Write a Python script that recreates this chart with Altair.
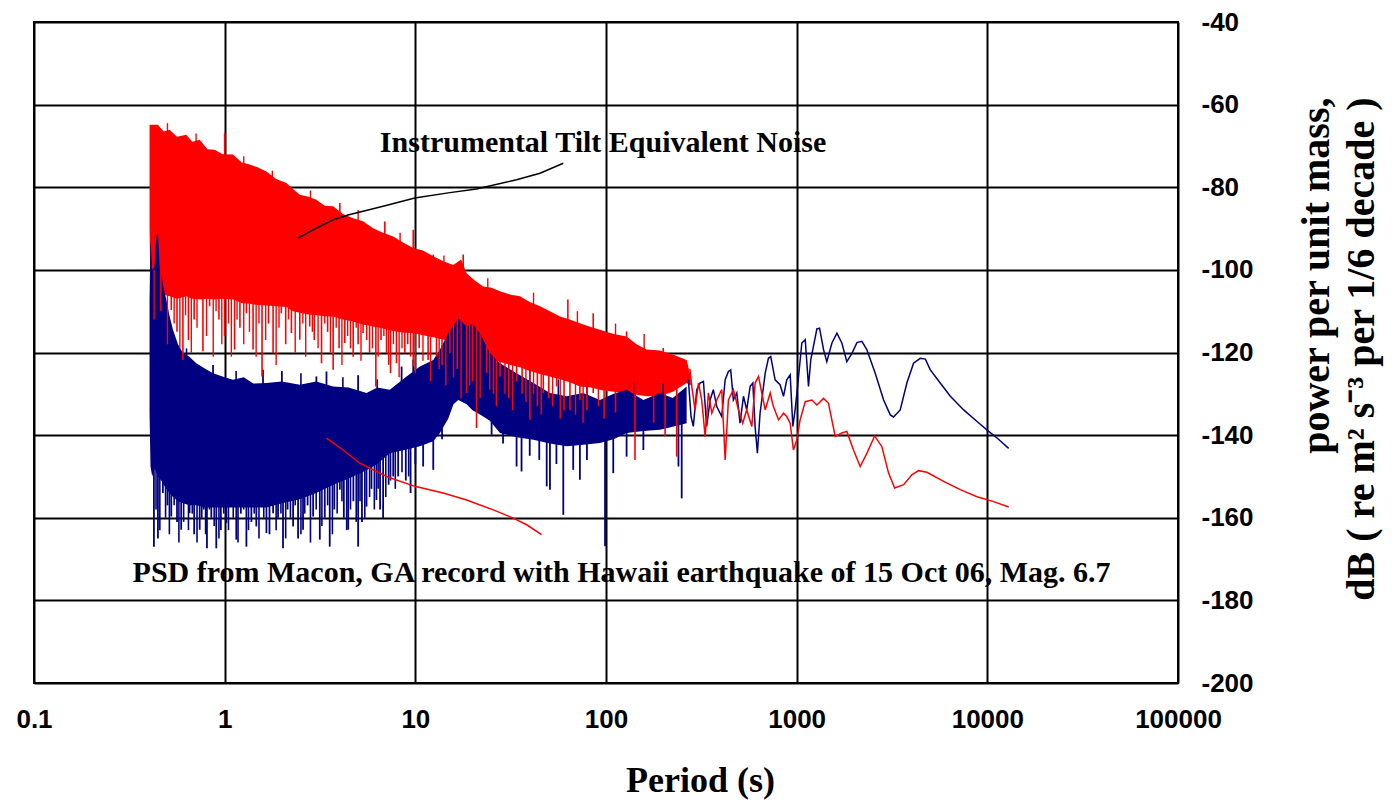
import altair as alt
import pandas as pd

# ---------------- data (log10 period, dB) ----------------
red_band_logp = [-0.394,-0.389,-0.350,-0.320,-0.289,-0.250,-0.201,-0.170,-0.131,-0.090,
                 -0.053,-0.010,0.044,0.090,0.131,0.175,0.219,0.270,0.324,0.360,
                 0.394,0.440,0.481,0.525,0.569,0.620,0.674,0.725,0.779,0.830,
                 0.884,0.940,0.989,1.040,1.094,1.150,1.199,1.240,1.269,1.310,
                 1.356,1.400,1.444,1.500,1.549,1.600,1.654,1.706,1.759,1.810,
                 1.863,1.920,1.968,2.040,2.108,2.160,2.213,2.283,2.350,2.423,2.445]
red_band_top = [-64.9,-64.9,-64.9,-66.5,-66.1,-67.8,-67.3,-69.0,-68.5,-70.8,
                -70.9,-72.0,-72.1,-74.0,-74.5,-75.2,-76.2,-78.0,-79.0,-80.5,
                -81.8,-82.3,-83.0,-84.5,-84.6,-86.5,-87.5,-88.2,-89.9,-91.0,
                -91.9,-93.5,-94.7,-95.3,-96.7,-98.0,-98.8,-97.5,-100.8,-102.5,
                -104.0,-104.3,-105.2,-106.0,-106.4,-107.8,-108.8,-110.0,-111.3,-112.0,
                -112.9,-113.8,-114.5,-115.5,-116.1,-118.0,-119.3,-119.5,-120.5,-121.8,-126.0]
red_band_bot = [-89.5,-107.0,-107.0,-106.0,-106.4,-107.0,-106.4,-107.0,-107.2,-107.0,
                -107.2,-107.0,-107.2,-108.0,-108.2,-108.5,-108.6,-108.8,-109.0,-110.0,
                -110.4,-110.8,-111.0,-111.2,-111.3,-112.0,-112.5,-113.2,-113.7,-114.2,
                -114.8,-115.2,-115.3,-115.8,-116.3,-116.9,-117.5,-118.5,-119.0,-119.6,
                -120.1,-121.5,-122.3,-123.0,-123.6,-124.5,-125.2,-125.8,-126.5,-127.2,
                -128.2,-128.5,-129.0,-129.5,-129.8,-130.2,-130.6,-130.6,-129.5,-127.4,-128.0]

red_spike_logp = [-0.280,-0.250,-0.219,-0.190,-0.160,-0.114,-0.079,-0.030,0.000,0.052,
                  0.080,0.114,0.149,0.196,0.230,0.254,0.297,0.320,0.350,0.394,
                  0.446,0.470,0.508,0.540,0.569,0.600,0.630,0.674,0.700,0.726,
                  0.760,0.793,0.820,0.849,0.870,0.901,0.945,0.960,0.989,1.020,
                  1.067,1.111,1.140,1.181,1.220,1.269,1.300,1.321,1.374,1.410,
                  1.444,1.490,1.531,1.560,1.601,1.640,1.671,1.700,1.741,1.780,
                  1.811,1.863,1.900,1.933,1.990,2.050,2.152,2.250,2.310,2.371,
                  0.000,0.604,0.840,0.989,1.094,1.251,1.800,1.933,2.108,2.300]
red_spike_tip = [-109.7,-115.0,-121.8,-117.0,-112.0,-119.7,-108.8,-112.0,-116.0,-119.3,
                 -114.0,-110.5,-119.3,-125.8,-113.0,-120.2,-110.5,-118.0,-115.3,-116.9,
                 -113.7,-117.0,-122.6,-115.0,-124.2,-119.0,-117.7,-121.0,-118.0,-115.3,
                 -120.0,-128.2,-117.0,-120.1,-125.0,-122.6,-120.1,-118.0,-123.4,-119.0,
                 -121.8,-121.0,-123.0,-120.1,-124.0,-129.8,-127.0,-138.3,-125.0,-130.0,
                 -125.8,-131.0,-127.0,-130.0,-136.3,-133.0,-129.8,-131.0,-128.2,-134.0,
                 -133.9,-131.5,-134.0,-129.8,-136.0,-134.5,-146.0,-137.0,-140.3,-145.2,
                 -66.9,-83.8,-88.3,-90.3,-96.3,-96.3,-107.2,-110.5,-114.9,-118.9]
red_spike_base = [-100,-100,-100,-100,-100,-100,-100,-100,-100,-100,
                  -100,-100,-100,-100,-100,-100,-100,-100,-100,-100,
                  -100,-100,-100,-100,-100,-100,-100,-100,-100,-100,
                  -100,-100,-100,-100,-100,-105,-105,-105,-105,-105,
                  -105,-108,-108,-108,-108,-110,-110,-110,-112,-112,
                  -112,-114,-114,-114,-114,-116,-116,-116,-116,-118,
                  -118,-118,-118,-118,-120,-120,-122,-124,-124,-124,
                  -80,-95,-100,-100,-105,-105,-118,-120,-125,-125]

# finer hairs on the red band (lower and upper edges)
red_hair_logp = [-0.370,-0.335,-0.300,-0.265,-0.235,-0.205,-0.175,-0.145,-0.095,-0.060,
                 -0.045,-0.015,0.020,0.035,0.065,0.100,0.130,0.165,0.180,0.215,
                 0.270,0.285,0.335,0.370,0.410,0.425,0.460,0.490,0.525,0.555,
                 0.585,0.615,0.645,0.660,0.690,0.715,0.745,0.775,0.805,0.835,
                 0.860,0.885,0.915,0.930,0.975,1.000,1.040,1.080,1.125,1.160,
                 1.200,1.240,1.285,1.340,1.390,1.425,1.470,1.510,1.580,1.620,
                 1.660,1.720,1.760,1.840,1.880,1.960,
                 -0.300,-0.150,0.100,0.250,0.450,0.700,0.920,1.150,1.380,1.620,
                 1.850,2.050,2.200]
red_hair_tip = [-112,-110,-118,-113,-119,-111,-120,-114,-116,-121,
                -110,-118,-113,-121,-112,-118,-115,-121,-113,-117,
                -123,-114,-112,-120,-113,-121,-115,-119,-113,-120,
                -114,-123,-116,-119,-114,-122,-117,-119,-121,-116,
                -123,-118,-126,-119,-121,-125,-122,-127,-124,-128,
                -126,-131,-128,-131,-129,-133,-130,-134,-132,-130,
                -135,-133,-136,-135,-137,-133,
                -64.5,-67.0,-72.5,-76.0,-80.8,-85.5,-91.0,-96.5,-102.0,-105.5,
                -110.0,-113.0,-115.5]
red_hair_base = [-100,-100,-100,-100,-100,-100,-100,-100,-100,-100,
                 -100,-100,-100,-100,-100,-100,-100,-100,-100,-100,
                 -100,-100,-100,-100,-100,-100,-100,-100,-100,-100,
                 -100,-100,-100,-100,-100,-100,-100,-100,-100,-100,
                 -100,-100,-105,-105,-105,-105,-105,-105,-110,-110,
                 -110,-110,-110,-113,-113,-113,-113,-116,-116,-116,
                 -116,-116,-119,-119,-119,-119,
                 -72,-75,-80,-85,-90,-95,-100,-105,-110,-114,
                 -118,-122,-125]

red_tail_logp = [2.440,2.450,2.467,2.485,2.502,2.520,2.537,2.555,2.581,2.607,
                 2.625,2.642,2.668,2.695,2.717,2.738,2.765,2.782,2.800,2.817,
                 2.835,2.861,2.878,2.905,2.931,2.948,2.966,2.983,3.001,3.018,
                 3.045,3.080,3.106,3.141,3.167,3.202,3.237,3.263,3.298,3.333,
                 3.368,3.409,3.447,3.482,3.514,3.561,3.604,3.639,3.683,3.771,
                 3.858,3.946,4.033,4.112]
red_tail_db = [-124.0,-128.2,-133.9,-127.4,-131.5,-140.3,-129.8,-134.7,-131.5,-129.0,
               -146.0,-131.5,-129.0,-133.9,-137.1,-133.9,-137.9,-127.4,-125.8,-129.8,
               -133.9,-129.8,-133.1,-136.3,-134.7,-135.5,-137.1,-143.6,-141.1,-136.3,
               -131.9,-131.5,-132.7,-131.1,-132.3,-140.3,-139.5,-139.1,-143.6,-147.6,
               -144.4,-140.2,-142.8,-149.2,-152.8,-152.0,-149.6,-148.6,-149.0,-151.2,
               -153.2,-154.9,-156.1,-157.4]

blue_band_logp = [-0.394,-0.389,-0.380,-0.368,-0.358,-0.350,-0.341,-0.333,-0.320,-0.306,
                  -0.290,-0.271,-0.245,-0.219,-0.185,-0.149,-0.100,-0.061,0.000,0.044,
                  0.100,0.150,0.219,0.300,0.394,0.480,0.569,0.650,0.744,0.800,
                  0.866,0.954,1.024,1.094,1.129,1.173,1.200,1.225,1.269,1.300,
                  1.339,1.391,1.444,1.531,1.619,1.706,1.794,1.881,1.968,2.040,
                  2.108,2.196,2.283,2.350,2.423]
blue_band_top = [-107.2,-92.7,-100.0,-99.2,-92.0,-90.8,-99.5,-100.8,-104.5,-107.2,
                 -111.0,-114.5,-118.0,-120.1,-121.0,-122.6,-124.0,-125.0,-126.0,-126.6,
                 -126.0,-127.5,-127.4,-127.0,-127.8,-127.0,-128.2,-128.5,-129.8,-128.5,
                 -129.0,-125.8,-123.4,-121.8,-119.3,-115.3,-113.5,-111.7,-113.7,-113.0,
                 -115.3,-120.1,-122.6,-125.0,-127.4,-129.8,-130.6,-129.8,-131.5,-130.0,
                 -129.0,-131.5,-129.8,-131.0,-128.2]
blue_band_bot = [-134.7,-147.6,-150.0,-148.0,-149.0,-150.0,-150.5,-151.0,-152.0,-153.0,
                 -154.0,-155.0,-156.0,-156.5,-157.0,-157.0,-157.5,-157.5,-157.5,-157.5,
                 -157.5,-157.5,-157.5,-156.5,-155.5,-154.0,-152.0,-150.5,-148.5,-147.0,
                 -144.4,-143.5,-142.7,-141.5,-139.5,-136.0,-132.5,-131.5,-132.5,-134.0,
                 -135.0,-136.5,-139.5,-140.5,-141.1,-142.0,-142.7,-142.3,-141.9,-141.0,
                 -139.5,-139.0,-138.7,-138.0,-137.1]

blue_spike_logp = [-0.371,-0.350,-0.324,-0.300,-0.280,-0.250,-0.228,-0.200,-0.184,-0.160,
                   -0.131,-0.110,-0.093,-0.070,-0.044,-0.020,0.009,0.030,0.061,0.085,
                   0.114,0.140,0.166,0.190,0.219,0.235,0.254,0.280,0.306,0.330,
                   0.359,0.385,0.411,0.435,0.464,0.499,0.525,0.551,0.575,0.604,
                   0.625,0.648,0.675,0.700,0.720,0.744,0.770,0.796,0.815,0.831,
                   0.860,0.884,0.910,0.950,0.975,1.000,1.041,1.094,1.140,1.400,
                   1.460,1.531,1.557,1.600,1.650,1.689,1.706,1.740,1.776,1.828,
                   1.863,1.900,1.995,2.038,2.108,2.196,2.380,2.397,
                   -0.061,0.201,0.300,0.481,0.534,0.700,0.928,0.989]
blue_spike_tip = [-167.0,-165.0,-154.0,-157.0,-159.7,-161.0,-162.9,-156.0,-158.9,-164.0,
                  -162.9,-158.0,-167.4,-160.0,-167.4,-163.0,-161.3,-157.0,-165.3,-159.0,
                  -167.0,-161.0,-162.1,-156.0,-163.7,-164.0,-158.9,-160.0,-167.4,-158.0,
                  -162.1,-165.0,-162.9,-157.0,-159.7,-165.3,-160.0,-167.0,-158.0,-153.2,
                  -160.0,-162.9,-156.0,-167.0,-161.0,-157.3,-153.0,-155.7,-158.0,-160.1,
                  -152.0,-150.0,-150.0,-151.0,-154.0,-147.0,-147.6,-148.4,-141.0,-139.9,
                  -142.0,-147.6,-148.8,-145.0,-146.0,-152.4,-153.2,-147.0,-159.3,-148.4,
                  -150.8,-146.0,-166.9,-149.2,-145.2,-143.6,-147.6,-155.3,
                  -123.0,-124.2,-124.5,-125.8,-124.6,-125.5,-123.4,-121.8]
blue_spike_base = [-140,-140,-140,-140,-140,-140,-140,-140,-140,-140,
                   -140,-140,-140,-140,-140,-140,-140,-140,-140,-140,
                   -140,-140,-140,-140,-140,-140,-140,-140,-140,-140,
                   -140,-140,-140,-140,-140,-140,-140,-140,-140,-140,
                   -140,-140,-140,-140,-140,-140,-140,-140,-138,-138,
                   -138,-138,-135,-135,-135,-135,-133,-133,-128,-128,
                   -132,-132,-132,-132,-134,-134,-134,-134,-134,-134,
                   -134,-134,-134,-134,-133,-133,-133,-133,
                   -135,-135,-135,-135,-135,-135,-135,-135]

# finer hairs on the blue band (lower and upper edges)
blue_hair_logp = [-0.360,-0.340,-0.310,-0.290,-0.265,-0.240,-0.215,-0.190,-0.170,-0.145,
                  -0.120,-0.100,-0.080,-0.055,-0.030,-0.005,0.020,0.045,0.070,0.100,
                  0.125,0.155,0.180,0.205,0.245,0.270,0.295,0.320,0.345,0.370,
                  0.400,0.420,0.450,0.480,0.510,0.540,0.565,0.590,0.615,0.640,
                  0.660,0.690,0.710,0.735,0.760,0.785,0.805,0.845,0.870,0.895,
                  0.930,0.965,
                  -0.200,0.060,0.400,0.620,0.800,1.600,1.750,1.900,2.150,2.300]
blue_hair_tip = [-158,-163,-160,-164,-157,-166,-161,-163,-159,-166,
                 -160,-164,-158,-162,-165,-159,-163,-160,-166,-158,
                 -163,-159,-165,-160,-157,-163,-159,-165,-160,-157,
                 -164,-159,-166,-158,-162,-157,-164,-159,-156,-163,
                 -158,-161,-156,-160,-155,-158,-153,-155,-151,-153,
                 -149,-150,
                 -119.0,-124.5,-125.0,-126.0,-126.5,-124.0,-126.5,-127.0,-127.0,-127.5]
blue_hair_base = [-140,-140,-140,-140,-140,-140,-140,-140,-140,-140,
                  -140,-140,-140,-140,-140,-140,-140,-140,-140,-140,
                  -140,-140,-140,-140,-140,-140,-140,-140,-140,-140,
                  -140,-140,-140,-140,-140,-140,-140,-140,-140,-140,
                  -140,-140,-140,-140,-140,-140,-140,-138,-138,-138,
                  -135,-135,
                  -135,-135,-135,-135,-135,-135,-136,-136,-135,-135]

blue_tail_logp = [2.432,2.446,2.458,2.476,2.493,2.511,2.528,2.546,2.563,2.581,
                  2.607,2.625,2.642,2.654,2.668,2.686,2.703,2.721,2.738,2.756,
                  2.770,2.782,2.794,2.808,2.835,2.852,2.864,2.887,2.913,2.931,
                  2.948,2.966,2.980,2.992,3.010,3.027,3.045,3.062,3.074,3.088,
                  3.106,3.120,3.141,3.158,3.185,3.211,3.237,3.263,3.290,3.316,
                  3.342,3.368,3.412,3.456,3.491,3.508,3.543,3.578,3.613,3.648,
                  3.675,3.701,3.753,3.806,3.876,3.946,4.007,4.051,4.112]
blue_tail_db = [-126.6,-135.5,-137.9,-129.0,-127.4,-127.0,-137.9,-131.5,-129.0,-133.1,
                -135.5,-126.6,-124.6,-124.2,-131.5,-129.8,-137.1,-130.6,-133.9,-128.2,
                -127.4,-137.9,-144.4,-134.7,-125.0,-121.4,-121.0,-126.6,-127.8,-130.6,
                -126.6,-125.4,-137.9,-133.9,-125.8,-117.7,-116.9,-128.2,-121.8,-118.5,
                -114.3,-114.1,-119.3,-122.2,-117.7,-115.3,-117.7,-122.2,-120.2,-117.6,
                -117.3,-119.3,-125.0,-131.5,-135.1,-135.6,-133.9,-127.4,-122.6,-121.4,
                -121.6,-124.2,-127.4,-130.6,-133.9,-136.7,-139.1,-140.7,-143.2]

# annotation leader lines
black_leader_logp = [0.385,0.481,0.569,0.647,0.831,0.997,1.181,1.321,1.531,1.654,1.776]
black_leader_db = [-92.3,-89.9,-87.9,-86.7,-84.6,-82.6,-81.3,-80.4,-78.2,-76.6,-74.2]
red_leader_logp = [0.534,0.621,0.709,0.849,0.997,1.146,1.269,1.409,1.514,1.584,1.662]
red_leader_db = [-140.7,-143.6,-146.8,-150.0,-152.4,-154.0,-155.7,-158.1,-160.1,-161.7,-164.1]

annot_text = ["Instrumental Tilt Equivalent Noise",
              "PSD from Macon, GA record with Hawaii earthquake of 15 Oct 06, Mag. 6.7"]
annot_logp = [0.814, -0.483]
annot_db = [-71.4, -175.5]

x_ticks = [0.1, 1, 10, 100, 1000, 10000, 100000]
y_ticks = [-200, -180, -160, -140, -120, -100, -80, -60, -40]

RED = "#FF0000"
BLUE = "#000080"


def frame(logp, **cols):
    d = pd.DataFrame({"logp": logp, **cols})
    d["period"] = 10 ** d["logp"]
    return d


x_axis = alt.Axis(values=x_ticks, labelExpr="'' + datum.value", grid=True,
                  gridColor="black", gridWidth=2, gridOpacity=1, ticks=False, domain=False,
                  labelFont="Liberation Sans", labelFontWeight="bold", labelFontSize=26,
                  labelColor="black", labelPadding=23, labelFlush=False, labelOverlap=False,
                  labelBound=False,
                  title="Period (s)", titleFont="Liberation Serif", titleFontWeight="bold",
                  titleFontSize=36, titleColor="black", titleX=666, titleY=108,
                  titleBaseline="alphabetic", titleAlign="center")
y_axis = alt.Axis(orient="right", values=y_ticks, labelExpr="'' + datum.value", grid=True,
                  gridColor="black", gridWidth=2, gridOpacity=1, ticks=False, domain=False,
                  labelFont="Liberation Sans", labelFontWeight="bold", labelFontSize=26,
                  labelColor="black", labelPadding=23, labelFlush=False, labelOverlap=False,
                  labelBound=False,
                  title=["power per unit mass,", "dB ( re m\u00b2 s\u207b\u00b3 per 1/6 decade )"],
                  titleFont="Liberation Serif", titleFontWeight="bold", titleFontSize=40,
                  titleLineHeight=45, titleColor="black", titleAngle=270, titleAlign="right",
                  titleBaseline="alphabetic", titleX=150, titleY=75)

x_scale = alt.Scale(type="log", domain=[0.1, 100000], nice=False)
y_scale = alt.Scale(domain=[-200, -40], nice=False, zero=False)


def X():
    return alt.X("period:Q", scale=x_scale, axis=x_axis)


def Y(field):
    return alt.Y(field, type="quantitative", scale=y_scale, axis=y_axis)


def band(logp, top, bot, color):
    return alt.Chart(frame(logp, top=top, bot=bot)).mark_area(color=color, opacity=1).encode(
        x=X(), y=Y("top"), y2=alt.Y2("bot"))


def spikes(logp, tip, base, color, width):
    return alt.Chart(frame(logp, tip=tip, base=base)).mark_rule(
        color=color, strokeWidth=width).encode(x=X(), y=Y("tip"), y2=alt.Y2("base"))


def line(logp, db, color):
    return alt.Chart(frame(logp, db=db)).mark_line(color=color, strokeWidth=1.5).encode(
        x=X(), y=Y("db"), order="logp:Q")


annots = alt.Chart(frame(annot_logp, db=annot_db, label=annot_text)).mark_text(
    align="left", baseline="alphabetic", font="Liberation Serif", fontWeight="bold",
    fontSize=30, color="black").encode(x=X(), y=Y("db"), text="label:N")

chart = alt.layer(
    band(red_band_logp, red_band_top, red_band_bot, RED),
    band(blue_band_logp, blue_band_top, blue_band_bot, BLUE),
    spikes(blue_spike_logp, blue_spike_tip, blue_spike_base, BLUE, 1.8),
    spikes(blue_hair_logp, blue_hair_tip, blue_hair_base, BLUE, 1.6),
    spikes(red_spike_logp, red_spike_tip, red_spike_base, RED, 1.6),
    spikes(red_hair_logp, red_hair_tip, red_hair_base, RED, 1.4),
    line(blue_tail_logp, blue_tail_db, BLUE),
    line(red_tail_logp, red_tail_db, RED),
    line(black_leader_logp, black_leader_db, "black"),
    line(red_leader_logp, red_leader_db, RED),
    annots,
).properties(
    width=1144, height=661,
    autosize=alt.AutoSizeParams(type="none"),
    padding={"left": 34, "top": 22, "right": 214, "bottom": 118},
    background="white",
).configure_view(stroke="black", strokeWidth=2)

chart.save("out.html", embed_options={"renderer": "svg", "actions": False})
